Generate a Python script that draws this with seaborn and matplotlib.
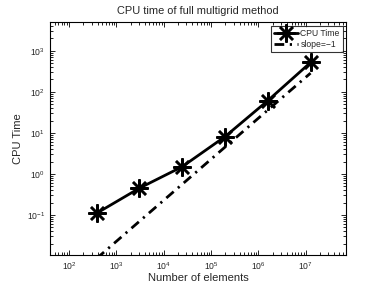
import matplotlib
matplotlib.use("Agg")
import matplotlib.pyplot as plt
import seaborn as sns
import pandas as pd

# data
num_elements = [384, 3072, 24576, 196608, 1572864, 12582912]
cpu_time = [0.11, 0.45, 1.5, 8.1, 61, 520]
slope_ref = [0.0087, 0.07, 0.56, 4.5, 36, 286]
series_names = ["CPU Time", "slope=\u22121"]

sns.set_style("ticks")
plt.rcParams["font.family"] = ["Liberation Sans", "DejaVu Sans"]
plt.rcParams["mathtext.fontset"] = "custom"
plt.rcParams["mathtext.rm"] = "Liberation Sans"
plt.rcParams["mathtext.it"] = "Liberation Sans"

df = pd.DataFrame({
    "n": num_elements * 2,
    "t": cpu_time + slope_ref,
    "series": [series_names[0]] * 6 + [series_names[1]] * 6,
})

fig = plt.figure(figsize=(3.82, 2.87), dpi=100)
ax = fig.add_axes([0.131, 0.111, 0.775, 0.812])

sns.lineplot(data=df[df.series == series_names[0]], x="n", y="t", ax=ax,
             color="black", linewidth=2, marker=(8, 2, 0), markersize=13,
             markeredgewidth=1.8, markeredgecolor="black",
             label=series_names[0])
sns.lineplot(data=df[df.series == series_names[1]], x="n", y="t", ax=ax,
             color="black", linewidth=2, dashes=(3.5, 2, 0.8, 2),
             label=series_names[1])

ax.set_xscale("log")
ax.set_yscale("log")
ax.set_xlim(10 ** 1.6, 10 ** 7.85)
ax.set_ylim(10 ** -1.98, 10 ** 3.7)
ax.set_xticks([1e2, 1e3, 1e4, 1e5, 1e6, 1e7])
ax.set_yticks([1e-1, 1e0, 1e1, 1e2, 1e3])

ax.tick_params(which="both", direction="in", top=True, right=True,
               labelsize=6.2, width=0.6, color="black")
ax.tick_params(which="major", length=3.5)
ax.tick_params(which="minor", length=2)
for s in ax.spines.values():
    s.set_linewidth(0.8)
    s.set_color("black")

ax.set_xlabel("Number of elements", fontsize=8, labelpad=1)
ax.set_ylabel("CPU Time", fontsize=8, labelpad=3)
ax.set_title("CPU time of full multigrid method", fontsize=7.9, pad=6)

leg = ax.legend(loc="upper right", fontsize=6.2, frameon=True, fancybox=False,
                edgecolor="black", handlelength=2.8, borderpad=0.35,
                labelspacing=0.25, handletextpad=0.3, borderaxespad=0.4)
leg.get_frame().set_linewidth(0.8)

fig.savefig("out.png", dpi=100, facecolor="white")
